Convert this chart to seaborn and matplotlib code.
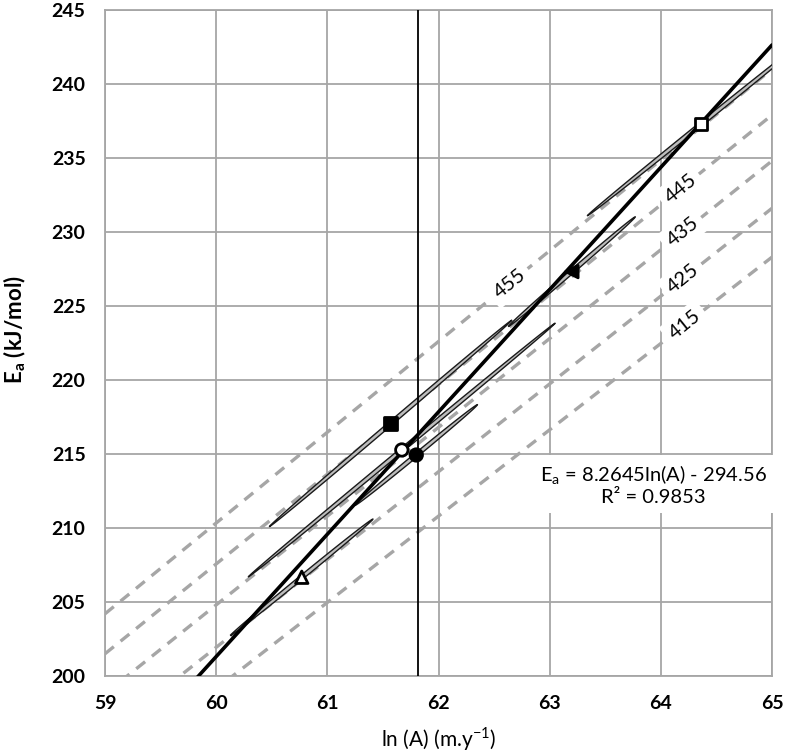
import numpy as np
import pandas as pd
import matplotlib
matplotlib.use("Agg")
import matplotlib.pyplot as plt
import seaborn as sns

# points (ln A, Ea) and their marker styles
pt_name = ["open square", "filled triangle", "filled square", "open circle", "filled circle", "open triangle"]
pt_lnA = [64.36, 63.20, 61.57, 61.67, 61.80, 60.77]
pt_Ea = [237.28, 227.32, 217.07, 215.27, 214.93, 206.67]
pt_marker = ["s", "<", "s", "o", "o", "^"]
pt_fill = ["open", "filled", "filled", "open", "filled", "open"]

# half-lengths of the elongated ellipses around each point
ell_dlnA = [1.02, 0.57, 1.09, 1.38, 0.55, 0.64]
ell_dEa = [6.18, 3.70, 6.97, 8.57, 3.40, 3.93]

# isotherm lines: Ea at ln A = 59 and ln A = 65
iso_label = ["455", "445", "435", "425", "415"]
iso_Ea_59 = [204.2, 201.5, 198.8, 196.0, 193.3]
iso_Ea_65 = [241.0, 237.9, 234.8, 231.6, 228.3]
iso_lab_x = [62.64, 64.18, 64.20, 64.20, 64.22]

# trendline
slope, intercept, r2 = 8.2645, -294.56, 0.9853
vline_x = 61.82

x_lim = (59, 65)
y_lim = (200, 245)

sns.set_theme(style="white")
plt.rcParams["font.family"] = ["Lato", "DejaVu Sans"]
plt.rcParams["text.color"] = "black"
plt.rcParams["axes.labelcolor"] = "black"
plt.rcParams["xtick.color"] = "black"
plt.rcParams["ytick.color"] = "black"

fig = plt.figure(figsize=(8, 7.53), dpi=100)
ax = fig.add_axes([0.13125, 0.1023, 0.83375, 0.8845])
ax.set_xlim(*x_lim)
ax.set_ylim(*y_lim)
ax.set_xticks(range(59, 66))
ax.set_yticks(range(200, 246, 5))
ax.grid(True, color="#a6a6a6", lw=1.3)
ax.set_axisbelow(True)
for s in ax.spines.values():
    s.set_color("#a6a6a6")
    s.set_linewidth(1.3)
ax.tick_params(length=0, pad=14, labelsize=14)
for lab in ax.get_xticklabels() + ax.get_yticklabels():
    lab.set_fontweight("bold")

# dashed isotherms
for lab, e0, e1, lx in zip(iso_label, iso_Ea_59, iso_Ea_65, iso_lab_x):
    d = pd.DataFrame({"lnA": [59, 65], "Ea": [e0, e1]})
    sns.lineplot(data=d, x="lnA", y="Ea", ax=ax, color="#a6a6a6", lw=2.4,
                 linestyle=(0, (3.4, 2.6)), zorder=2)
    ly = e0 + (e1 - e0) * (lx - 59) / 6
    ax.text(lx, ly, lab, rotation=39, ha="center", va="center", fontsize=14.5,
            rotation_mode="anchor", color="black",
            bbox=dict(fc="white", ec="none", pad=4), zorder=3)

# ellipses
fig.canvas.draw()
tr = ax.transData
t = np.linspace(0, 2 * np.pi, 200)
for cx, cy, dx, dy in zip(pt_lnA, pt_Ea, ell_dlnA, ell_dEa):
    c = tr.transform((cx, cy))
    e = tr.transform((cx + dx, cy + dy))
    u = e - c
    n = np.array([-u[1], u[0]]) / np.hypot(*u) * 2.0
    pts = c + np.outer(np.cos(t), u) + np.outer(np.sin(t), n)
    dat = tr.inverted().transform(pts)
    ax.fill(dat[:, 0], dat[:, 1], fc="#bdbdbd", ec="#1a1a1a", lw=1.0, zorder=4)

# trendline and vertical line
xs = np.array(x_lim, dtype=float)
trend = pd.DataFrame({"lnA": xs, "Ea": slope * xs + intercept})
sns.lineplot(data=trend, x="lnA", y="Ea", ax=ax, color="black", lw=2.6, zorder=5)
ax.axvline(vline_x, color="black", lw=1.3, zorder=5)

# markers
pts_df = pd.DataFrame({"lnA": pt_lnA, "Ea": pt_Ea, "name": pt_name, "fill": pt_fill})
sns.scatterplot(data=pts_df, x="lnA", y="Ea", style="name", hue="fill",
                markers=dict(zip(pt_name, pt_marker)),
                palette={"open": "white", "filled": "black"},
                edgecolor="black", linewidth=2.0, s=80, legend=False, ax=ax, zorder=6)

ax.text(63.93, 212.9, "E$_\\mathregular{a}$ = 8.2645ln(A) - 294.56\nR² = 0.9853",
        ha="center", va="center", fontsize=14.5, linespacing=1.15,
        bbox=dict(fc="white", ec="none", pad=5), zorder=7)

ax.set_xlabel("ln (A) (m.y$^\\mathregular{-1}$)", fontsize=15)
ax.set_ylabel("E$_\\mathregular{a}$ (kJ/mol)", fontsize=16, fontweight="bold")
ax.xaxis.set_label_coords(0.5, -0.074)
ax.yaxis.set_label_coords(-0.115, 0.52)

fig.savefig("out.png", dpi=100)
